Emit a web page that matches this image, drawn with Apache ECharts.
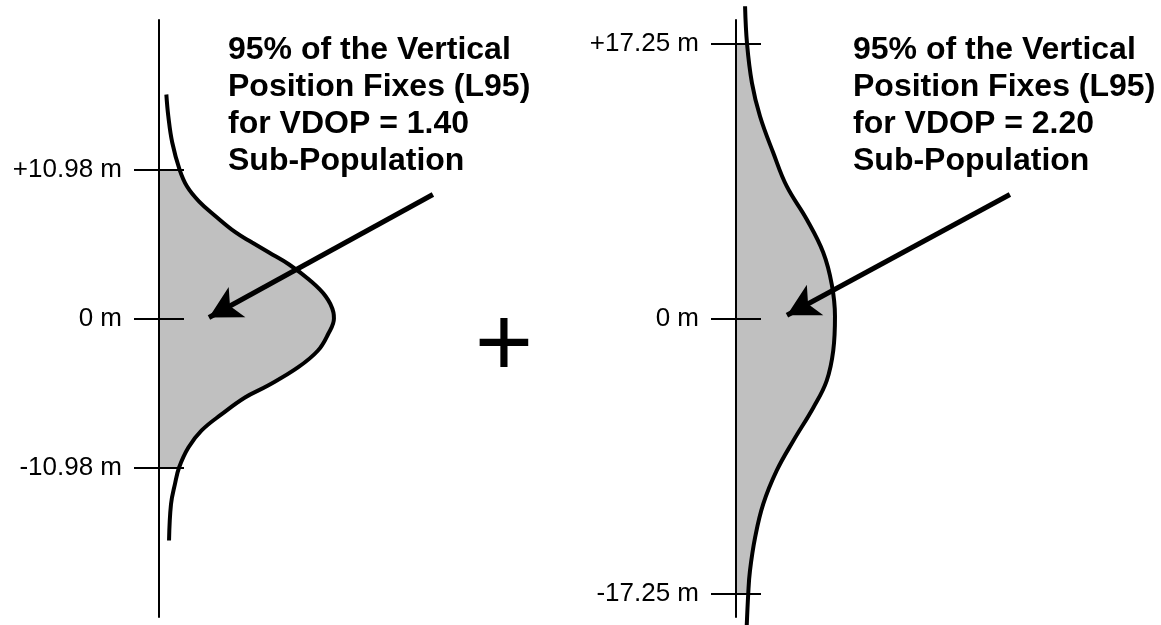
<!DOCTYPE html>
<html>
<head>
<meta charset="utf-8">
<script src="https://cdn.jsdelivr.net/npm/echarts@6/dist/echarts.min.js"></script>
<style>html,body{margin:0;padding:0;background:#fff;}#chart{width:1161px;height:625px;}</style>
</head>
<body>
<div id="chart"></div>
<script>
// ---- data ----
// Left panel: VDOP = 1.40 sub-population (vertical position in metres, relative density)
const leftPos = [16.51, 14.91, 12.97, 10.98, 9.75, 8.64, 7.54, 6.34, 5.60, 4.86, 3.98, 2.87, 1.64, 0.44, 0, -1.16, -2.36, -3.61, -4.94, -5.82, -7.05, -8.25, -9.51, -10.98, -12.21, -13.68, -16.36];
const leftDensity = [0.0030, 0.0038, 0.0054, 0.0084, 0.0114, 0.0163, 0.0231, 0.0313, 0.0380, 0.0449, 0.0531, 0.0612, 0.0680, 0.0712, 0.0714, 0.0690, 0.0649, 0.0567, 0.0445, 0.0351, 0.0256, 0.0174, 0.0120, 0.0082, 0.0065, 0.0049, 0.0041];
// Right panel: VDOP = 2.20 sub-population
const rightPos = [19.59, 17.25, 14.79, 12.69, 10.40, 8.30, 6.21, 4.14, 2.13, 0.14, -2.01, -3.91, -5.58, -7.67, -9.55, -11.65, -13.74, -15.83, -17.25, -19.60];
const rightDensity = [0.0037, 0.0045, 0.0065, 0.0098, 0.0152, 0.0207, 0.0289, 0.0356, 0.0391, 0.0404, 0.0397, 0.0370, 0.0316, 0.0234, 0.0166, 0.0111, 0.0078, 0.0057, 0.0050, 0.0043];

// L95 bounds and tick labels
const leftL95 = 10.98;
const rightL95 = 17.25;
const leftTickValues = [10.98, 0, -10.98];
const leftTickLabels = ['+10.98 m', '0 m', '-10.98 m'];
const rightTickValues = [17.25, 0, -17.25];
const rightTickLabels = ['+17.25 m', '0 m', '-17.25 m'];

// Annotation text
const leftNote = ['95% of the Vertical', 'Position Fixes (L95)', 'for VDOP = 1.40', 'Sub-Population'];
const rightNote = ['95% of the Vertical', 'Position Fixes (L95)', 'for VDOP = 2.20', 'Sub-Population'];
const joinSymbol = '+';

// Arrows (data coordinates: [density, metres])
const leftArrowFrom = [0.1118, 9.14];
const leftArrowTo = [0.0204, 0.07];
const rightArrowFrom = [0.1118, 7.78];
const rightArrowTo = [0.0208, 0.2];

// ---- chart ----
const FONT = '"Liberation Sans", Arial, Helvetica, sans-serif';
const chart = echarts.init(document.getElementById('chart'), null, {renderer: 'canvas'});

function pairs(pos, dens) { return pos.map((p, i) => [dens[i], p]); }

function yAxes(gridIndex, range, ticks, labels) {
  const base = {
    gridIndex: gridIndex, type: 'value', min: -range, max: range, position: 'left',
    splitLine: {show: false}, z: 3
  };
  return [
    Object.assign({}, base, {
      axisLine: {show: true, onZero: false, lineStyle: {color: '#000', width: 2}},
      axisTick: {show: true, inside: false, length: 25, customValues: ticks, lineStyle: {color: '#000', width: 2}},
      axisLabel: {
        show: true, customValues: ticks, margin: 37, color: '#000', fontSize: 26, fontFamily: FONT,
        formatter: v => labels[ticks.indexOf(v)]
      }
    }),
    Object.assign({}, base, {
      axisLine: {show: false},
      axisTick: {show: true, inside: true, length: 25, customValues: ticks, lineStyle: {color: '#000', width: 2}},
      axisLabel: {show: false}
    })
  ];
}

function fillSeries(xi, yi, pos, dens, band) {
  return {
    type: 'custom', coordinateSystem: 'cartesian2d', xAxisIndex: xi, yAxisIndex: yi,
    data: [[0, 0]], silent: true, z: 1, clip: false,
    renderItem: function (params, api) {
      const pts = [api.coord([0, band])];
      pos.forEach((p, i) => {
        if (p <= band + 1e-9 && p >= -band - 1e-9) pts.push(api.coord([dens[i], p]));
      });
      pts.push(api.coord([0, -band]));
      return {type: 'polygon', shape: {points: pts}, style: {fill: '#c0c0c0', stroke: null}};
    }
  };
}

function curveSeries(xi, yi, pos, dens, from, to) {
  return {
    type: 'line', xAxisIndex: xi, yAxisIndex: yi, data: pairs(pos, dens),
    smooth: 0.4, showSymbol: false, symbol: 'none', clip: false, z: 5, silent: true,
    lineStyle: {color: '#000', width: 4},
    markLine: {
      silent: true, symbol: ['none', 'arrow'], symbolSize: [26, 32],
      lineStyle: {color: '#000', width: 5, type: 'solid'},
      label: {show: false},
      data: [[{coord: from}, {coord: to}]]
    }
  };
}

const option = {
  backgroundColor: '#ffffff',
  animation: false,
  grid: [
    {left: 159, top: 20, width: 294, height: 597},
    {left: 736, top: 20, width: 294, height: 597}
  ],
  xAxis: [
    {gridIndex: 0, type: 'value', min: 0, max: 0.12, show: false},
    {gridIndex: 1, type: 'value', min: 0, max: 0.12, show: false}
  ],
  yAxis: [].concat(
    yAxes(0, 22, leftTickValues, leftTickLabels),
    yAxes(1, 18.73, rightTickValues, rightTickLabels)
  ),
  series: [
    fillSeries(0, 0, leftPos, leftDensity, leftL95),
    curveSeries(0, 0, leftPos, leftDensity, leftArrowFrom, leftArrowTo),
    fillSeries(1, 2, rightPos, rightDensity, rightL95),
    curveSeries(1, 2, rightPos, rightDensity, rightArrowFrom, rightArrowTo)
  ],
  graphic: [
    {type: 'text', left: 228, top: 32, z: 10,
     style: {text: leftNote.join('\n'), font: 'bold 32px ' + FONT, lineHeight: 37, fill: '#000'}},
    {type: 'text', left: 853, top: 32, z: 10,
     style: {text: rightNote.join('\n'), font: 'bold 32px ' + FONT, lineHeight: 37, fill: '#000'}},
    {type: 'text', x: 504, y: 348, z: 10,
     style: {text: joinSymbol, font: '100px ' + FONT, align: 'center', verticalAlign: 'middle', fill: '#000'}}
  ]
};
chart.setOption(option);
</script>
</body>
</html>
